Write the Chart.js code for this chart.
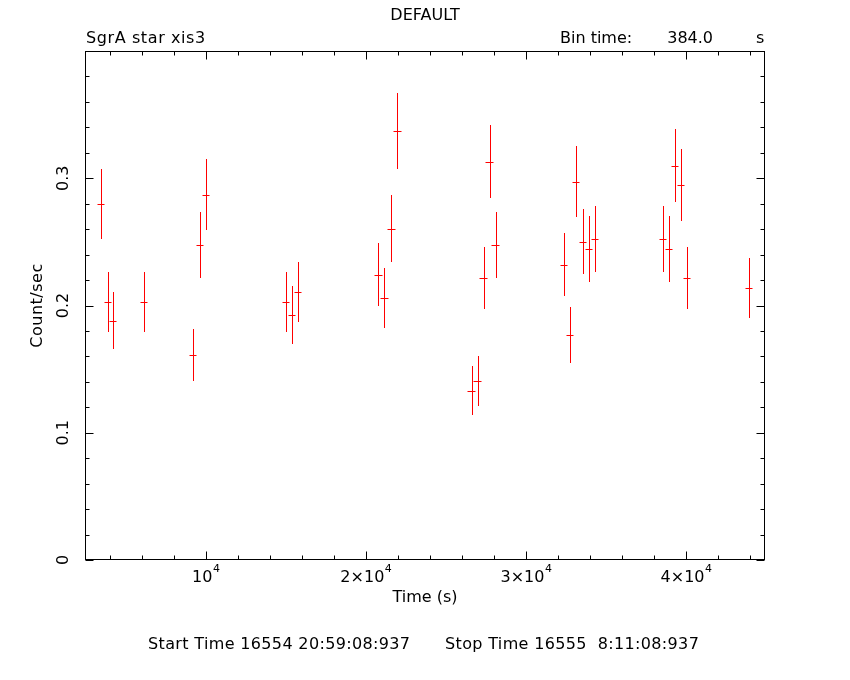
<!DOCTYPE html>
<html>
<head>
<meta charset="utf-8">
<script src="https://cdn.jsdelivr.net/npm/chart.js@4/dist/chart.umd.min.js"></script>
<style>
  html, body { margin: 0; padding: 0; background: #ffffff; }
  #wrap { width: 850px; height: 680px; }
</style>
</head>
<body>
<div id="wrap"><canvas id="c" width="850" height="680"></canvas></div>
<script>
// ---- data ----
const times = [3475, 3875, 4225, 6163, 9225, 9663, 10038, 15038, 15413, 15788,
               20788, 21163, 21600, 21975, 26600, 26975, 27350, 27725, 28100,
               32350, 32725, 33100, 33538, 33913, 34288, 38538, 38913, 39288,
               39663, 40038, 43913];
const rates = [0.2795, 0.2029, 0.1882, 0.2029, 0.1612, 0.2478, 0.2872, 0.2029, 0.1927, 0.2108,
               0.2242, 0.2061, 0.2604, 0.3368, 0.1331, 0.1407, 0.2218, 0.3131, 0.2478,
               0.2320, 0.1769, 0.2974, 0.2502, 0.2446, 0.2525, 0.2525, 0.2446, 0.3100,
               0.2945, 0.2218, 0.2139];
const rateErrors = [0.0276, 0.0236, 0.0226, 0.0236, 0.0205, 0.0260, 0.0276, 0.0236, 0.0226, 0.0236,
                    0.0247, 0.0234, 0.0266, 0.0299, 0.0191, 0.0195, 0.0242, 0.0290, 0.0260,
                    0.0247, 0.0219, 0.0282, 0.0257, 0.0258, 0.0258, 0.0258, 0.0258, 0.0290,
                    0.0282, 0.0242, 0.0238];
const binTime = 384.0;

const xMajorTicks = [10000, 20000, 30000, 40000];
const xTickBase = ['10', '2\u00d710', '3\u00d710', '4\u00d710'];
const xTickExp = ['4', '4', '4', '4'];
const xMinorTicks = [4000, 6000, 8000, 12000, 14000, 16000, 18000, 22000, 24000, 26000, 28000,
                     32000, 34000, 36000, 38000, 42000, 44000];
const yMajorTicks = [0, 0.1, 0.2, 0.3];
const yTickLabels = ['0', '0.1', '0.2', '0.3'];
const yMinorTicks = [0.02, 0.04, 0.06, 0.08, 0.12, 0.14, 0.16, 0.18, 0.22, 0.24, 0.26, 0.28,
                     0.32, 0.34, 0.36, 0.38];

const titleText = 'DEFAULT';
const leftHeader = 'SgrA star xis3';
const binLabel = 'Bin time:';
const binValue = '384.0';
const binUnit = 's';
const xAxisTitle = 'Time (s)';
const yAxisTitle = 'Count/sec';
const footerStart = 'Start Time 16554 20:59:08:937';
const footerStop = 'Stop Time 16555  8:11:08:937';

const points = times.map((t, i) => ({ x: t, y: rates[i] }));

const FONT = '16px "DejaVu Sans", sans-serif';
const SUPFONT = '11px "DejaVu Sans", sans-serif';

const qdpPlugin = {
  id: 'qdp',
  beforeDraw(chart) {
    const ctx = chart.ctx;
    ctx.save();
    ctx.fillStyle = '#ffffff';
    ctx.fillRect(0, 0, chart.width, chart.height);
    ctx.restore();
  },
  afterDatasetsDraw(chart) {
    const ctx = chart.ctx;
    const xs = chart.scales.x, ys = chart.scales.y;
    const ca = chart.chartArea;
    const L = Math.round(ca.left) + 0.5, R = Math.round(ca.right) - 0.5;
    const T = Math.round(ca.top) + 0.5, B = Math.round(ca.bottom) - 0.5;
    ctx.save();

    // error bars (red crosses)
    ctx.strokeStyle = '#ff0000';
    ctx.lineWidth = 1;
    const half = binTime / 2;
    points.forEach((p, i) => {
      const px = Math.round(xs.getPixelForValue(p.x)) + 0.5;
      const py = Math.round(ys.getPixelForValue(p.y)) + 0.5;
      const x1 = xs.getPixelForValue(p.x - half), x2 = xs.getPixelForValue(p.x + half);
      const y1 = ys.getPixelForValue(p.y + rateErrors[i]), y2 = ys.getPixelForValue(p.y - rateErrors[i]);
      ctx.beginPath();
      ctx.moveTo(px, Math.round(y1)); ctx.lineTo(px, Math.round(y2));
      ctx.moveTo(Math.round(x1) - 0.5, py); ctx.lineTo(Math.round(x2) + 0.5, py);
      ctx.stroke();
    });

    // frame
    ctx.strokeStyle = '#000000';
    ctx.lineWidth = 1;
    ctx.strokeRect(L, T, R - L, B - T);

    // ticks
    const major = 8, minor = 4;
    ctx.beginPath();
    const xTick = (v, len) => {
      const px = Math.round(xs.getPixelForValue(v)) + 0.5;
      ctx.moveTo(px, B); ctx.lineTo(px, B - len);
      ctx.moveTo(px, T); ctx.lineTo(px, T + len);
    };
    const yTick = (v, len) => {
      const py = Math.round(ys.getPixelForValue(v)) + 0.5;
      ctx.moveTo(L, py); ctx.lineTo(L + len, py);
      ctx.moveTo(R, py); ctx.lineTo(R - len, py);
    };
    xMajorTicks.forEach(v => xTick(v, major));
    xMinorTicks.forEach(v => xTick(v, minor));
    yMajorTicks.forEach(v => yTick(v, major));
    yMinorTicks.forEach(v => yTick(v, minor));
    ctx.stroke();

    // x tick labels with superscripts
    ctx.fillStyle = '#000000';
    ctx.textBaseline = 'alphabetic';
    xMajorTicks.forEach((v, i) => {
      const px = xs.getPixelForValue(v);
      ctx.font = FONT;
      const wb = ctx.measureText(xTickBase[i]).width;
      ctx.font = SUPFONT;
      const we = ctx.measureText(xTickExp[i]).width;
      const start = px - (wb + we) / 2;
      ctx.font = FONT;
      ctx.textAlign = 'left';
      ctx.fillText(xTickBase[i], start, 582);
      ctx.font = SUPFONT;
      ctx.fillText(xTickExp[i], start + wb + 0.5, 572);
    });

    // y tick labels (rotated)
    ctx.font = FONT;
    yMajorTicks.forEach((v, i) => {
      const py = ys.getPixelForValue(v);
      ctx.save();
      ctx.translate(64, py);
      ctx.rotate(-Math.PI / 2);
      ctx.textAlign = 'center';
      ctx.textBaseline = 'middle';
      ctx.fillText(yTickLabels[i], 0, 0);
      ctx.restore();
    });

    // axis titles
    ctx.textAlign = 'center';
    ctx.textBaseline = 'middle';
    const cx = (ca.left + ca.right) / 2;
    ctx.fillText(xAxisTitle, cx, 598);
    ctx.save();
    ctx.translate(38, (ca.top + ca.bottom) / 2);
    ctx.rotate(-Math.PI / 2);
    ctx.letterSpacing = '0.5px';
    ctx.fillText(yAxisTitle, 0, 0);
    ctx.restore();

    // headers
    ctx.fillText(titleText, cx, 16);
    ctx.textAlign = 'left';
    ctx.save();
    ctx.letterSpacing = '0.6px';
    ctx.fillText(leftHeader, 86, 39);
    ctx.restore();
    ctx.fillText(binLabel, 560, 39);
    ctx.textAlign = 'right';
    ctx.fillText(binValue, 713, 39);
    ctx.textAlign = 'left';
    ctx.fillText(binUnit, 756, 39);

    // footer
    ctx.save();
    ctx.letterSpacing = '0.35px';
    ctx.textAlign = 'left';
    ctx.fillText(footerStart, 148, 645);
    ctx.fillText(footerStop, 445, 645);
    ctx.restore();

    ctx.restore();
  }
};

new Chart(document.getElementById('c'), {
  type: 'scatter',
  data: {
    datasets: [{
      data: points,
      pointRadius: 0,
      pointHoverRadius: 0,
      showLine: false,
      borderColor: '#ff0000',
      backgroundColor: '#ff0000'
    }]
  },
  options: {
    responsive: false,
    animation: false,
    events: [],
    layout: { padding: { left: 85, right: 85, top: 51, bottom: 120 } },
    plugins: { legend: { display: false }, tooltip: { enabled: false }, title: { display: false } },
    scales: {
      x: { type: 'linear', min: 2460, max: 44930, display: false },
      y: { type: 'linear', min: 0, max: 0.4, display: false }
    }
  },
  plugins: [qdpPlugin]
});
</script>
</body>
</html>
